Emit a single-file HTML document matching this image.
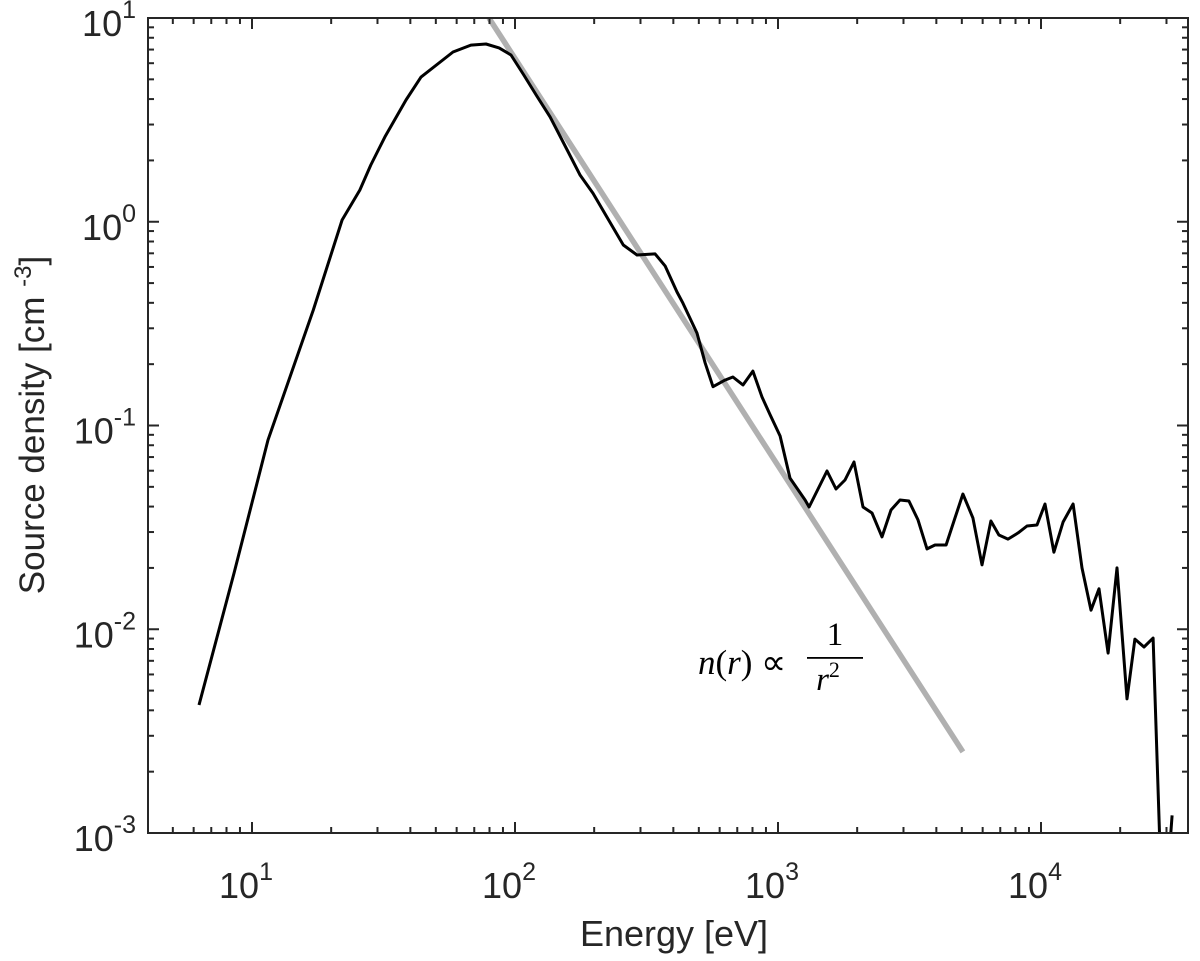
<!DOCTYPE html>
<html><head><meta charset="utf-8"><style>
html,body{margin:0;padding:0;background:#fff}
svg{display:block}
text{font-family:"Liberation Sans",Helvetica,Arial,sans-serif;fill:#262626}
</style></head><body>
<svg id="chart" width="1200" height="961" viewBox="0 0 1200 961" xmlns="http://www.w3.org/2000/svg">
<defs><clipPath id="clip"><rect x="148" y="18" width="1040" height="815"/></clipPath></defs>
<g id="plot" clip-path="url(#clip)"></g>
<g id="axes"></g>
<text x="674" y="946" font-size="36" text-anchor="middle">Energy [eV]</text>
<text transform="translate(44,425) rotate(-90)" font-size="35" text-anchor="middle">Source density [cm <tspan dy="-13" font-size="24">-3</tspan><tspan dy="13">]</tspan></text>
<g>
<text x="698" y="674" font-size="35" style="font-family:'Liberation Serif',serif;font-style:italic;fill:#000">n<tspan font-style="normal">(</tspan>r<tspan font-style="normal">) ∝</tspan></text>
<text x="835" y="645" font-size="33" text-anchor="middle" style="font-family:'Liberation Serif',serif;fill:#000">1</text>
<rect x="807" y="657" width="56" height="1.8" fill="#000"/>
<text x="828" y="690" font-size="33" text-anchor="middle" style="font-family:'Liberation Serif',serif;font-style:italic;fill:#000">r<tspan dy="-13" font-size="22" font-style="normal">2</tspan></text>
</g>
</svg>
<script>
const energy = [6.29,8.55,11.5,17.1,22.0,25.7,28.3,32.0,38.5,43.9,58.1,68.0,77.6,87.0,96.6,108,121,136,158,177,198,224,258,291,341,372,413,435,492,528,566,629,674,736,803,869,933,1019,1111,1268,1313,1536,1662,1798,1946,2105,2277,2485,2689,2909,3147,3406,3686,3954,4355,4710,5047,5510,5964,6452,6918,7491,8180,8850,9660,10360,11200,12130,13240,14320,15490,16620,17990,19460,21240,22760,24640,26690,29100,31500];
const density = [0.00425,0.0189,0.0849,0.369,1.02,1.43,1.90,2.61,3.96,5.13,6.81,7.36,7.45,7.13,6.58,5.25,4.14,3.27,2.25,1.69,1.38,1.05,0.769,0.687,0.695,0.607,0.452,0.399,0.284,0.203,0.155,0.167,0.173,0.158,0.185,0.138,0.113,0.0888,0.0552,0.0431,0.0398,0.0598,0.0488,0.0540,0.0662,0.0398,0.0372,0.0284,0.0385,0.0431,0.0426,0.0344,0.0248,0.0259,0.0259,0.0352,0.0461,0.0352,0.0207,0.0340,0.0290,0.0277,0.0297,0.0321,0.0325,0.0412,0.0239,0.0336,0.0412,0.0200,0.0124,0.0158,0.00764,0.0200,0.00455,0.00895,0.00818,0.00905,0.0003,0.00122];
const fitEnergy = [79.6,5047];
const fitDensity = [10,0.0025];
const xTickExps = [1,2,3,4];
const yTickExps = [1,0,-1,-2,-3];

const L=148,R=1188,T=18,B=833;
const xLogMin=1-(252-148)/263, xLogMax=1+(1188-252)/263;
function X(v){return L+(Math.log10(v)-xLogMin)/(xLogMax-xLogMin)*(R-L);}
function Y(v){return B-(Math.log10(v)+3)/4*(B-T);}
const NS="http://www.w3.org/2000/svg";
function mk(tag,attrs,parent){const e=document.createElementNS(NS,tag);for(const k in attrs)e.setAttribute(k,attrs[k]);parent.appendChild(e);return e;}
const plot=document.getElementById('plot'), axes=document.getElementById('axes');

const fit=mk('polyline',{points:fitEnergy.map((e,i)=>X(e).toFixed(1)+','+Y(fitDensity[i]).toFixed(1)).join(' '),fill:'none',stroke:'#b0b0b0','stroke-width':5.5},plot);


const line=mk('polyline',{points:energy.map((e,i)=>X(e).toFixed(1)+','+Y(density[i]).toFixed(1)).join(' '),fill:'none',stroke:'#000','stroke-width':3,'stroke-linejoin':'round'},plot);



const box=mk('rect',{x:L,y:T,width:R-L,height:B-T,fill:'none',stroke:'#262626','stroke-width':2},axes);



for(let d=0;d<=4;d++){for(let m=1;m<=9;m++){const v=m*Math.pow(10,d);if(v<Math.pow(10,xLogMin)||v>Math.pow(10,xLogMax))continue;const x=X(v);const len=m===1?11:6;
mk('line',{x1:x,y1:B,x2:x,y2:B-len,stroke:'#262626','stroke-width':2},axes);
mk('line',{x1:x,y1:T,x2:x,y2:T+len,stroke:'#262626','stroke-width':2},axes);}}
for(let d=-3;d<1;d++){for(let m=1;m<=9;m++){const v=m*Math.pow(10,d);const y=Y(v);const len=m===1?11:6;
mk('line',{x1:L,y1:y,x2:L+len,y2:y,stroke:'#262626','stroke-width':2},axes);
mk('line',{x1:R,y1:y,x2:R-len,y2:y,stroke:'#262626','stroke-width':2},axes);}}
[L,R].forEach(x0=>{const y=Y(10);mk('line',{x1:x0,y1:y,x2:x0+(x0===L?11:-11),y2:y,stroke:'#262626','stroke-width':2},axes);});

xTickExps.forEach(p=>{const t=mk('text',{x:X(Math.pow(10,p))-6,y:898,'font-size':36,'text-anchor':'middle'},axes);


t.innerHTML='10<tspan dy="-18" font-size="25">'+p+'</tspan>';});
yTickExps.forEach(p=>{const t=mk('text',{x:136,y:Y(Math.pow(10,p))+18,'font-size':36,'text-anchor':'end'},axes);


t.innerHTML='10<tspan dy="-18" font-size="25">'+p+'</tspan>';});
</script>
</body></html>
